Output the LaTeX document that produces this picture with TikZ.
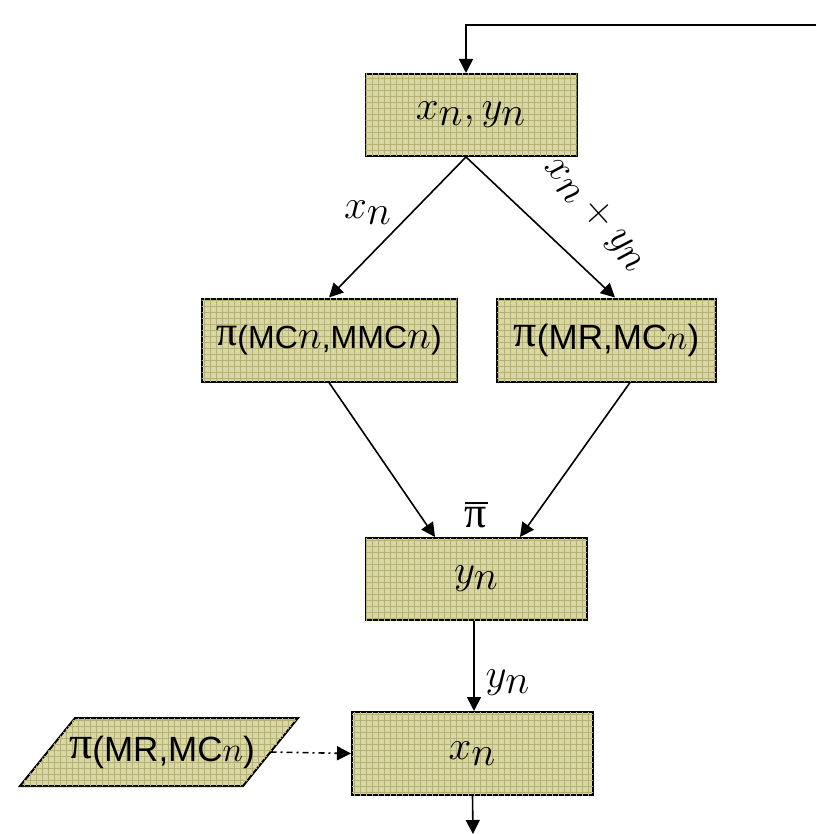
\RequirePackage{fix-cm}
\documentclass[tikz,border=0pt]{standalone}
\usepackage{fontspec}
\newfontfamily\arialf{Liberation Sans}
\newfontfamily\timesf{Liberation Serif}
\usetikzlibrary{arrows.meta,patterns}
\definecolor{boxfill}{HTML}{D9D7A3}
\definecolor{gridc}{HTML}{B4B172}
\newcommand{\msz}{\fontsize{20.5}{24}\selectfont}
\newcommand{\lsz}{\fontsize{16}{18}\selectfont}
\newcommand{\Lsz}{\fontsize{17.5}{20}\selectfont}
\newcommand{\bigpi}{\raisebox{1.2pt}{\timesf\fontsize{21}{21}\selectfont π}}
\newcommand{\Bigpi}{\raisebox{1.2pt}{\timesf\fontsize{23}{23}\selectfont π}}
\newcommand{\sbn}[1]{_{\textstyle #1}}
\begin{document}
\begin{tikzpicture}[x=0.5pt,y=-0.5pt,
  box/.style={draw, line width=1pt, fill=boxfill,
    postaction={pattern=grid, pattern color=gridc}, inner sep=0pt, font=\msz},
  arr/.style={line width=0.8pt, -{Triangle[length=7pt,width=7pt]}},
  lbl/.style={font=\msz, inner sep=0pt}]
\useasboundingbox (0,0) rectangle (816,834);

\node[box, minimum width=105.5pt, minimum height=41pt] (top) at (471,115) {$x\sbn{n}, y\sbn{n}$};
\node[box, minimum width=127.5pt, minimum height=41.5pt] (left) at (329,340)
  {\bigpi{\arialf\lsz(MC}$n${\arialf\lsz,MMC}$n${\arialf\lsz)}};
\node[box, minimum width=109.5pt, minimum height=41.5pt] (right) at (606.5,340)
  {\Bigpi{\arialf\Lsz(MR,MC}{\Lsz$n$}{\arialf\Lsz)}};
\node[box, minimum width=110.5pt, minimum height=41pt] (mid) at (476.5,579) {$y\sbn{n}$};
\node[box, minimum width=120.5pt, minimum height=41.5pt] (xn) at (472.5,753.5) {$x\sbn{n}$};

% parallelogram input
\coordinate (p1) at (75,718);
\coordinate (p2) at (298,718);
\coordinate (p3) at (243,786);
\coordinate (p4) at (20,786);
\coordinate (pr) at (270.5,752);
\filldraw[line width=1pt, fill=boxfill, postaction={pattern=grid, pattern color=gridc}]
  (p1) -- (p2) -- (p3) -- (p4) -- cycle;
\node[inner sep=0pt] (ptext) at (162,752) {\Bigpi{\arialf\Lsz(MR,MC}{\Lsz$n$}{\arialf\Lsz)}};

% feedback line
\coordinate (fb) at (816,25);
\draw[arr] (fb) -| ([xshift=-2.5pt]top.north);

% branches
\draw[arr] ([xshift=-2.5pt]top.south) -- (left.north);
\draw[arr] ([xshift=-2.5pt]top.south) -- ([xshift=4.25pt]right.north);
\node[lbl] (lx) at (368,213) {$x\sbn{n}$};
\node[lbl, rotate=-48] (lxy) at (596,214) {$x\sbn{n}+y\sbn{n}$};

\draw[arr] (left.south) -- ([xshift=-20.75pt]mid.north);
\draw[arr] ([xshift=11.75pt]right.south) -- ([xshift=21.75pt]mid.north);
\node[inner sep=0pt, font=\timesf\fontsize{22}{22}\selectfont] (pibar) at (476,518) {π};
\draw[line width=0.9pt] ([yshift=2pt]pibar.north west) -- ([yshift=2pt]pibar.north east);

\draw[arr] ([xshift=-1.25pt]mid.south) -- ([xshift=-1.25pt]mid.south |- xn.north);
\node[lbl] (ly) at (508,683) {$y\sbn{n}$};

\draw[arr, dash pattern=on 3pt off 2pt on 1pt off 2pt] (pr) -- (xn.west);

\coordinate (bot) at (473,834);
\draw[arr] (xn.south) -- (bot);
\end{tikzpicture}
\end{document}
